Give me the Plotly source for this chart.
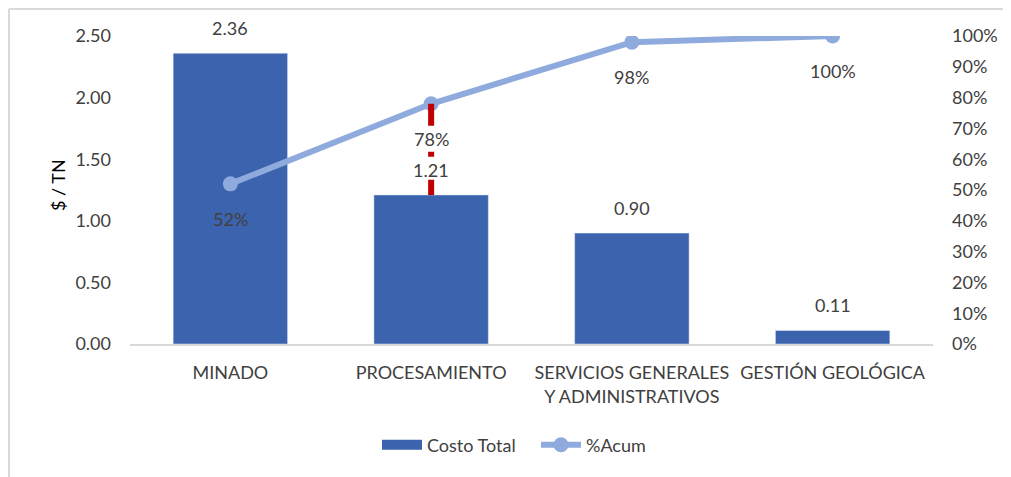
import plotly.graph_objects as go

categories = ["MINADO", "PROCESAMIENTO", "SERVICIOS GENERALES<br>Y ADMINISTRATIVOS", "GESTIÓN GEOLÓGICA"]
costo_total = [2.36, 1.21, 0.90, 0.11]
pct_acum = [0.52, 0.78, 0.98, 1.00]
bar_labels = ["2.36", "1.21", "0.90", "0.11"]
line_labels = ["52%", "78%", "98%", "100%"]
y_ticks = [0, 0.5, 1.0, 1.5, 2.0, 2.5]
y_max = 2.5

# page body adds 8px offset
OFF = 8
W, H = 1003, 469
ML, MR, MT, MB = 122, 78, 28, 133
PW, PH = W - ML - MR, H - MT - MB


def px_x(x):  # screen x -> paper
    return (x - OFF - ML) / PW


def px_y(y):  # screen y -> paper
    return (MT + PH - (y - OFF)) / PH


FONT = "Lato, 'Liberation Sans', Arial, sans-serif"
FS = 18
TXT = "#404040"
BAR_C = "#3C63AE"
LINE_C = "#8FAADC"

fig = go.Figure()
fig.add_trace(go.Bar(x=categories, y=costo_total, name="Costo Total",
                     marker_color=BAR_C, width=0.57, yaxis="y", showlegend=False))
fig.add_trace(go.Scatter(x=[None], y=[None], name="Costo Total", mode="lines",
                         line=dict(color=BAR_C, width=12), yaxis="y"))
fig.add_trace(go.Scatter(x=categories, y=pct_acum, name="%Acum", mode="lines+markers",
                         line=dict(color=LINE_C, width=6),
                         marker=dict(color=LINE_C, size=15), yaxis="y2"))

ann = []
for c, v, t in zip(categories, costo_total, bar_labels):
    ann.append(dict(x=c, y=v, xref="x", yref="y", text=t, showarrow=False,
                    yanchor="bottom", yshift=12, font=dict(size=FS, color=TXT, family=FONT)))
for c, v, t in zip(categories, pct_acum, line_labels):
    ann.append(dict(x=c, y=v, xref="x", yref="y2", text=t, showarrow=False,
                    yanchor="top", yshift=-22, font=dict(size=FS, color=TXT, family=FONT)))
ann.append(dict(x=px_x(58), y=px_y(185), xref="paper", yref="paper",
                xanchor="center", yanchor="middle",
                text="$ / TN", textangle=-90, showarrow=False,
                font=dict(size=FS, color="#000000", family=FONT)))

shapes = [
    # red dashed marker between the 2nd cumulative point and its bar
    dict(type="line", xref="x", yref="y", x0=categories[1], x1=categories[1],
         y0=pct_acum[1] * y_max, y1=costo_total[1],
         line=dict(color="#C00000", width=6, dash="22px,26px,5px,23px,40px,10px")),
    # outer chart border (left and top visible)
    dict(type="line", xref="paper", yref="paper",
         x0=px_x(9), x1=px_x(9), y0=px_y(9), y1=px_y(490),
         line=dict(color="#D9D9D9", width=2)),
    dict(type="line", xref="paper", yref="paper",
         x0=px_x(9), x1=px_x(1030), y0=px_y(9), y1=px_y(9),
         line=dict(color="#D9D9D9", width=2)),
]

fig.update_layout(
    width=W, height=H,
    margin=dict(l=ML, r=MR, t=MT, b=MB),
    paper_bgcolor="white", plot_bgcolor="white",
    font=dict(family=FONT, size=FS, color=TXT),
    showlegend=True,
    legend=dict(orientation="h", x=px_x(536), xanchor="center",
                y=px_y(445), yanchor="middle", entrywidth=104, itemwidth=40,
                font=dict(size=FS, color=TXT, family=FONT)),
    annotations=ann, shapes=shapes,
    xaxis=dict(showline=True, linecolor="#D9D9D9", linewidth=1.5, ticks="",
               showgrid=False, tickfont=dict(size=FS, color=TXT), ticklabelstandoff=12),
    yaxis=dict(range=[0, y_max], tickvals=y_ticks, tickformat=".2f", showgrid=False,
               zeroline=False, showline=False, ticks="", ticklabelstandoff=18,
               tickfont=dict(size=FS, color=TXT)),
    yaxis2=dict(range=[0, 1], overlaying="y", side="right", dtick=0.1, tickformat=".0%",
                showgrid=False, zeroline=False, showline=False, ticks="",
                ticklabelstandoff=18, tickfont=dict(size=FS, color=TXT)),
)

fig.write_html("out.html")
